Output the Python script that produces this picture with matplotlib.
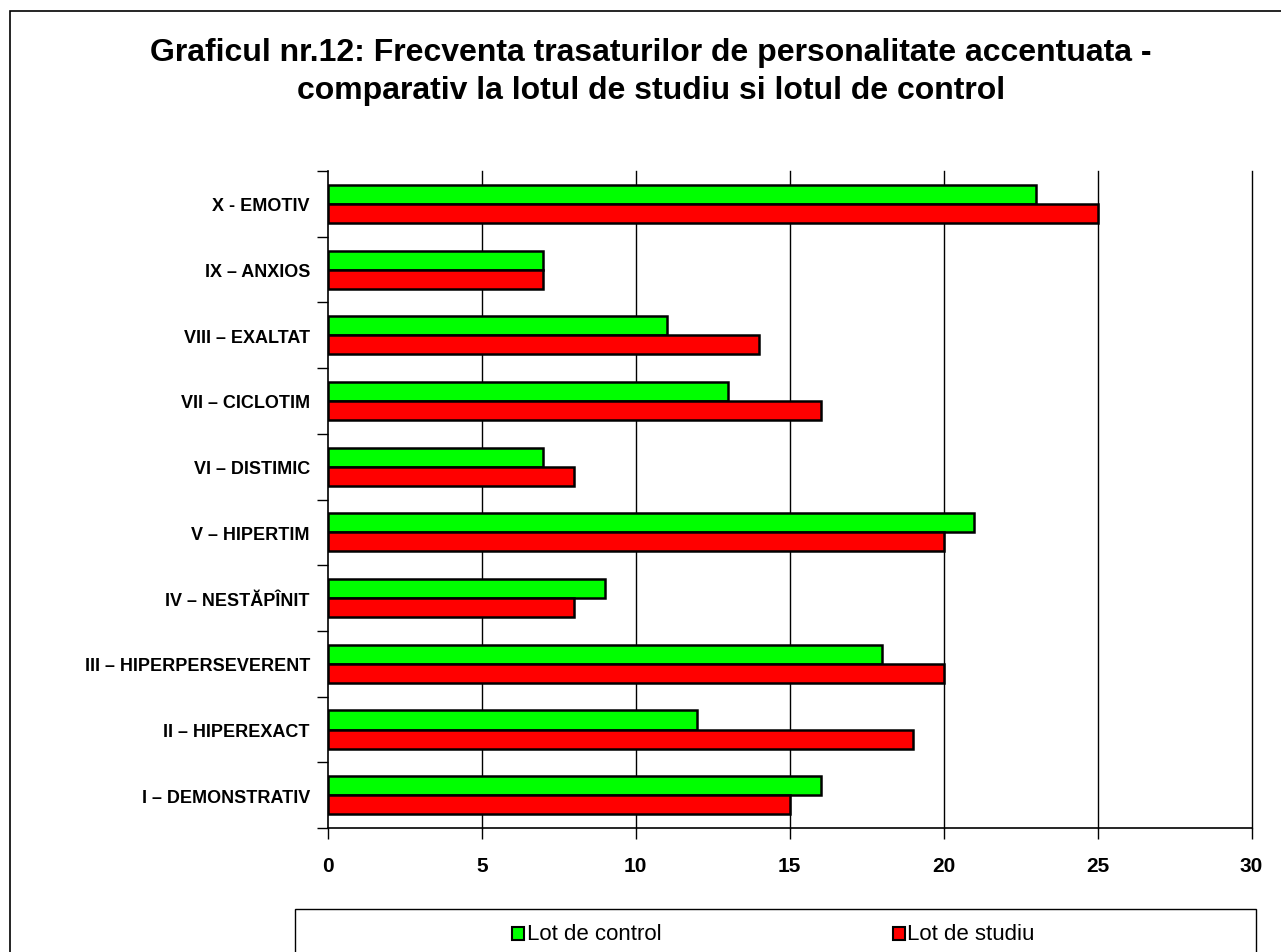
import numpy as np
import matplotlib
matplotlib.use("Agg")
import matplotlib.pyplot as plt
from matplotlib.patches import Rectangle

plt.rcParams['font.family'] = ['Liberation Sans', 'DejaVu Sans']

categories = ["I – DEMONSTRATIV", "II – HIPEREXACT", "III – HIPERPERSEVERENT",
              "IV – NESTĂPÎNIT", "V – HIPERTIM", "VI – DISTIMIC",
              "VII – CICLOTIM", "VIII – EXALTAT", "IX – ANXIOS", "X - EMOTIV"]
control = [16, 12, 18, 9, 21, 7, 13, 11, 7, 23]
studiu = [15, 19, 20, 8, 20, 8, 16, 14, 7, 25]

fig = plt.figure(figsize=(12.81, 9.53), dpi=100)
ax = fig.add_axes([0.256, 0.130, 0.721, 0.6895])

# outer chart border (cut at right/bottom like the source)
fig.patches.append(Rectangle((0.0075, -0.05), 1.2, 1.0376, transform=fig.transFigure,
                             fill=False, edgecolor='black', linewidth=1.2))
# legend box
fig.patches.append(Rectangle((0.2303, -0.05), 0.7505, 0.095, transform=fig.transFigure,
                             fill=False, edgecolor='black', linewidth=1.0))

y = np.arange(len(categories))
h = 0.29
ax.barh(y + h / 2, control, height=h, color='#00ff00', edgecolor='black', linewidth=1.8, zorder=3)
ax.barh(y - h / 2, studiu, height=h, color='#ff0000', edgecolor='black', linewidth=1.8, zorder=3)

ax.set_xlim(0, 30)
ax.set_ylim(-0.5, len(categories) - 0.5)
ax.set_xticks(range(0, 31, 5))
for xv in range(5, 31, 5):
    ax.axvline(xv, color='black', linewidth=1.0, zorder=0, clip_on=False)
ax.set_yticks(np.arange(-0.5, len(categories), 1.0))
ax.set_yticklabels([])
ax.set_yticks(y, minor=True)
ax.set_yticklabels(categories, minor=True, fontsize=13, fontweight='bold')
ax.tick_params(axis='y', which='minor', length=0, pad=13)
ax.tick_params(axis='y', which='major', length=8, width=1, direction='out')
ax.tick_params(axis='x', length=8, width=1, direction='out', labelsize=15, pad=12)
for lbl in ax.get_xticklabels():
    lbl.set_fontweight('bold')
for s in ['top', 'right']:
    ax.spines[s].set_visible(False)
ax.spines['left'].set_linewidth(1.2)
ax.spines['bottom'].set_linewidth(1.2)

fig.text(0.508, 0.9245, "Graficul nr.12: Frecventa trasaturilor de personalitate accentuata -\n"
         "comparativ la lotul de studiu si lotul de control",
         ha='center', va='center', fontsize=23, fontweight='bold', linespacing=1.38)

# legend entries
for xf, col, txt in [(0.400, '#00ff00', 'Lot de control'), (0.697, '#ff0000', 'Lot de studiu')]:
    fig.patches.append(Rectangle((xf, 0.0125), 0.0092, 0.0135, transform=fig.transFigure,
                                 facecolor=col, edgecolor='black', linewidth=1.5))
    fig.text(xf + 0.0112, 0.0195, txt, ha='left', va='center', fontsize=16)

fig.savefig("out.png", dpi=100)
